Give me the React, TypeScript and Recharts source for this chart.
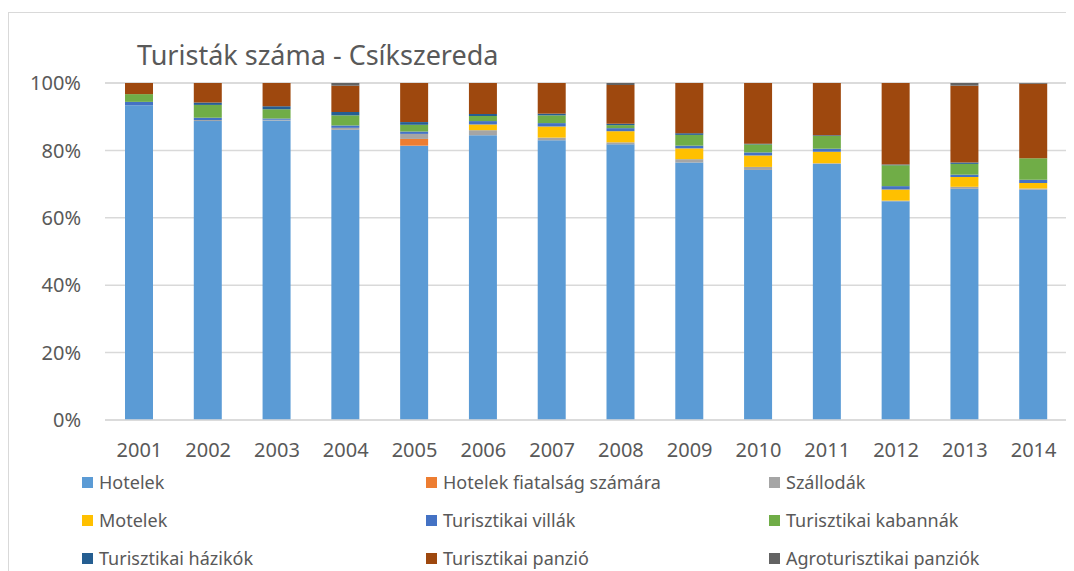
import React from "react";
import { BarChart, Bar, XAxis, YAxis, CartesianGrid, Legend } from "recharts";

const years = ["2001", "2002", "2003", "2004", "2005", "2006", "2007", "2008", "2009", "2010", "2011", "2012", "2013", "2014"];

const hotelek = [93.4, 88.7, 88.9, 86.1, 81.4, 84.5, 83.0, 81.8, 76.4, 74.2, 76.0, 64.9, 68.6, 68.3];
const fiatalsag = [0, 0, 0, 0, 2.0, 0, 0, 0, 0, 0, 0, 0, 0, 0];
const szallodak = [0, 0.3, 0.2, 0.6, 1.5, 1.5, 0.8, 0.6, 1.0, 0.9, 0.2, 0.2, 0.6, 0.4];
const motelek = [0, 0, 0, 0, 0, 1.7, 3.3, 3.3, 3.2, 3.4, 3.4, 3.3, 2.9, 1.6];
const villak = [1.0, 0.7, 0.4, 0.7, 0.7, 1.0, 1.0, 0.9, 0.8, 0.9, 0.9, 1.0, 0.7, 1.0];
const kabannak = [2.3, 3.8, 2.7, 3.0, 2.0, 1.5, 2.3, 0.9, 3.2, 2.4, 3.8, 6.2, 3.2, 6.4];
const hazikok = [0, 0.7, 0.9, 1.0, 0.8, 0.6, 0.5, 0.4, 0.5, 0.2, 0.2, 0.2, 0.4, 0];
const panzio = [3.3, 5.8, 6.9, 7.8, 11.6, 9.2, 9.1, 11.5, 14.9, 18.0, 15.5, 24.2, 22.8, 22.1];
const agro = [0, 0, 0, 0.8, 0, 0, 0, 0.6, 0, 0, 0, 0, 0.8, 0.2];

const yTicks = [0, 20, 40, 60, 80, 100];

const series = [
  { key: "hotelek", name: "Hotelek", color: "#5B9BD5", values: hotelek },
  { key: "fiatalsag", name: "Hotelek fiatalság számára", color: "#ED7D31", values: fiatalsag },
  { key: "szallodak", name: "Szállodák", color: "#A5A5A5", values: szallodak },
  { key: "motelek", name: "Motelek", color: "#FFC000", values: motelek },
  { key: "villak", name: "Turisztikai villák", color: "#4472C4", values: villak },
  { key: "kabannak", name: "Turisztikai kabannák", color: "#70AD47", values: kabannak },
  { key: "hazikok", name: "Turisztikai házikók", color: "#255E91", values: hazikok },
  { key: "panzio", name: "Turisztikai panzió", color: "#9E480E", values: panzio },
  { key: "agro", name: "Agroturisztikai panziók", color: "#636363", values: agro },
];

const data = years.map((year, i) => {
  const row: Record<string, string | number> = { year };
  series.forEach((s) => {
    row[s.key] = s.values[i];
  });
  return row;
});

const font = "'Noto Sans', sans-serif";
const textColor = "#595959";

// legend laid out in 3 columns like the Excel original
function LegendGrid() {
  const colLeft = [73, 417, 760];
  return (
    <div style={{ position: "relative", width: 1064, height: 121, fontFamily: font }}>
      {series.map((s, i) => {
        const col = i % 3;
        const row = Math.floor(i / 3);
        return (
          <div
            key={s.key}
            style={{
              position: "absolute",
              left: colLeft[col],
              top: 20 + row * 38,
              height: 24,
              display: "flex",
              alignItems: "center",
              whiteSpace: "nowrap",
            }}
          >
            <span style={{ width: 11, height: 11, background: s.color, marginRight: 6 }} />
            <span style={{ fontSize: 18, color: textColor }}>{s.name}</span>
          </div>
        );
      })}
    </div>
  );
}

export default function App() {
  return (
    <div
      style={{
        marginTop: 4,
        width: 1066,
        height: 559,
        boxSizing: "border-box",
        borderTop: "1px solid #d9d9d9",
        borderLeft: "1px solid #d9d9d9",
        position: "relative",
      }}
    >
      <style>{`html, body { overflow: hidden; }`}</style>
      <div
        style={{
          position: "absolute",
          left: 128,
          top: 28,
          fontFamily: font,
          fontSize: 27,
          lineHeight: 1,
          color: textColor,
          whiteSpace: "nowrap",
        }}
      >
        Turisták száma - Csíkszereda
      </div>
      <BarChart
        width={1064}
        height={558}
        data={data}
        margin={{ top: 70, right: 5, left: 0, bottom: 0 }}
      >
        <CartesianGrid vertical={false} stroke="#d9d9d9" strokeWidth={1.5} />
        <XAxis
          dataKey="year"
          height={30}
          tickLine={false}
          axisLine={{ stroke: "#d9d9d9", strokeWidth: 1.5 }}
          tickSize={0}
          tickMargin={23}
          tick={{ fill: textColor, fontSize: 20, fontFamily: font }}
        />
        <YAxis
          width={96}
          domain={[0, 100]}
          ticks={yTicks}
          tickFormatter={(v) => `${v}%`}
          tickLine={false}
          axisLine={false}
          tickSize={0}
          tickMargin={24}
          tick={{ fill: textColor, fontSize: 20, fontFamily: font }}
        />
        <Legend verticalAlign="bottom" height={121} content={() => <LegendGrid />} wrapperStyle={{ left: 0, bottom: 0, width: 1064 }} />
        {series.map((s) => (
          <Bar
            key={s.key}
            dataKey={s.key}
            name={s.name}
            stackId="a"
            fill={s.color}
            barSize={28}
            isAnimationActive={false}
          />
        ))}
      </BarChart>
    </div>
  );
}
